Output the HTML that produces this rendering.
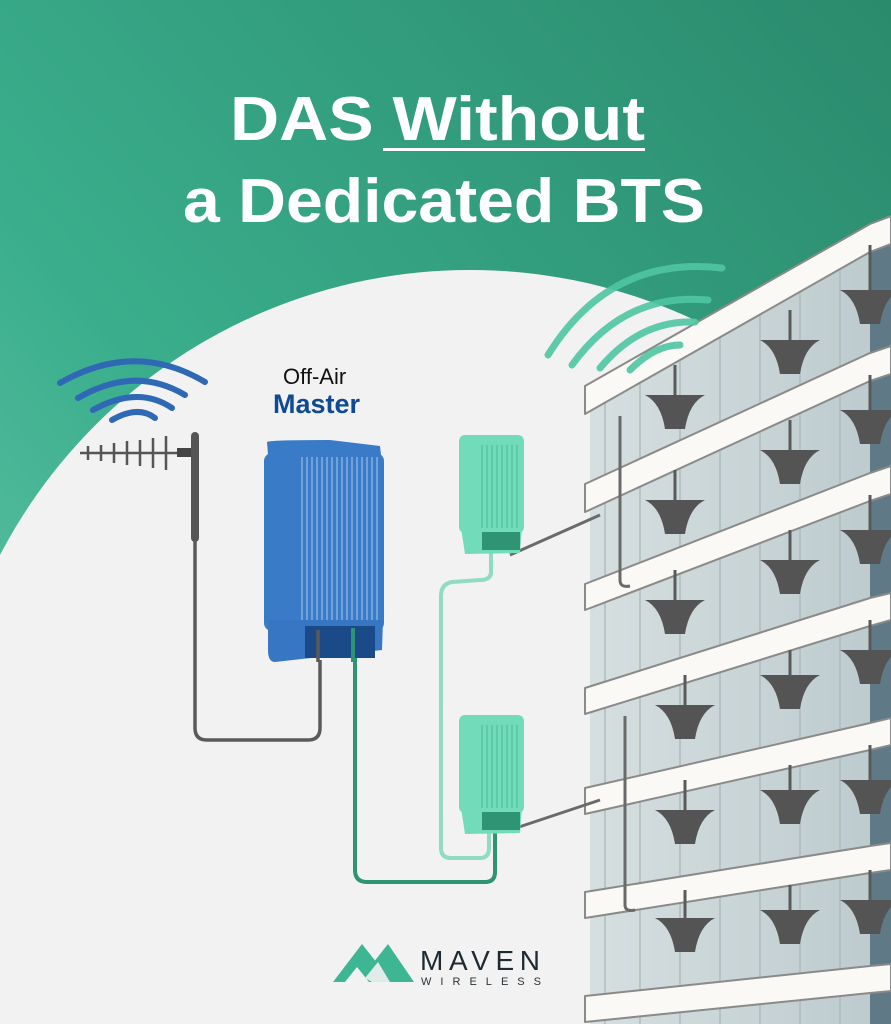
<!DOCTYPE html>
<html><head><meta charset="utf-8"><style>
html,body{margin:0;padding:0;background:#f2f2f2;width:891px;height:1024px;overflow:hidden}
svg{display:block}
</style></head><body>
<svg width="891" height="1024" viewBox="0 0 891 1024" xmlns="http://www.w3.org/2000/svg">
<defs>
<linearGradient id="bg" x1="1" y1="0" x2="0" y2="1">
<stop offset="0" stop-color="#2a8a6c"/><stop offset="0.6" stop-color="#3aae8c"/><stop offset="1" stop-color="#6cc9ad"/>
</linearGradient>
<linearGradient id="gl" x1="0" y1="0" x2="1" y2="0">
<stop offset="0" stop-color="#d6dfe0"/><stop offset="1" stop-color="#bccacd"/>
</linearGradient>
<path id="c" d="M-30,0 L30,0 Q14,8 10,34 L-10,34 Q-14,8 -30,0Z"/>
</defs>
<rect width="891" height="1024" fill="url(#bg)"/>
<circle cx="470" cy="800" r="530" fill="#f2f2f2"/>
<rect x="0" y="800" width="891" height="224" fill="#f2f2f2"/>

<!-- Title -->
<g font-family="Liberation Sans, sans-serif" fill="#fff" font-size="62" font-weight="bold">
<text x="230" y="140" textLength="415" lengthAdjust="spacingAndGlyphs">DAS Without</text>
<text x="183" y="222" textLength="522" lengthAdjust="spacingAndGlyphs">a Dedicated BTS</text>
</g>
<rect x="383" y="148" width="262" height="3" fill="#fff"/>

<!-- Building -->
<polygon points="590,400 870,240 891,232 891,1024 590,1024" fill="url(#gl)"/>
<polygon points="870,240 891,228 891,1024 870,1024" fill="#5f7a86"/>
<g stroke="#aebcbf" stroke-width="1.5">
<line x1="605" y1="390" x2="605" y2="1024"/><line x1="640" y1="370" x2="640" y2="1024"/><line x1="680" y1="350" x2="680" y2="1024"/>
<line x1="720" y1="325" x2="720" y2="1024"/><line x1="760" y1="305" x2="760" y2="1024"/><line x1="800" y1="285" x2="800" y2="1024"/><line x1="840" y1="260" x2="840" y2="1024"/>
</g>
<!-- slabs -->
<g fill="#faf9f5" stroke="#8a8a8a" stroke-width="2" stroke-linejoin="round">
<polygon points="585,386 870,224 891,216 891,244 870,252 585,414"/>
<polygon points="585,484 870,353 891,346 891,374 870,381 585,512"/>
<polygon points="585,584 870,473 891,466 891,494 870,501 585,610"/>
<polygon points="585,688 870,598 891,593 891,620 870,626 585,714"/>
<polygon points="585,788 870,723 891,718 891,745 870,750 585,814"/>
<polygon points="585,892 870,846 891,843 891,870 870,873 585,918"/>
<polygon points="585,996 870,966 891,964 891,991 870,993 585,1022"/>
</g>
<!-- cables along building -->
<g stroke="#6a6a6a" stroke-width="3" fill="none">
<path d="M620,416 L620,580 Q620,588 630,586"/>
<path d="M625,716 L625,905 Q625,912 635,910"/>
<line x1="510" y1="555" x2="600" y2="515"/>
<line x1="510" y1="830" x2="600" y2="800"/>
</g>
<!-- antennas -->
<g stroke="#5a5a5a" stroke-width="3">
<line x1="675" y1="365" x2="675" y2="395"/><line x1="675" y1="470" x2="675" y2="500"/><line x1="675" y1="570" x2="675" y2="600"/>
<line x1="685" y1="675" x2="685" y2="705"/><line x1="685" y1="780" x2="685" y2="810"/><line x1="685" y1="890" x2="685" y2="918"/>
<line x1="790" y1="310" x2="790" y2="340"/><line x1="790" y1="420" x2="790" y2="450"/><line x1="790" y1="530" x2="790" y2="560"/>
<line x1="790" y1="650" x2="790" y2="675"/><line x1="790" y1="765" x2="790" y2="790"/><line x1="790" y1="885" x2="790" y2="910"/>
<line x1="870" y1="245" x2="870" y2="290"/><line x1="870" y1="375" x2="870" y2="410"/><line x1="870" y1="495" x2="870" y2="530"/>
<line x1="870" y1="620" x2="870" y2="650"/><line x1="870" y1="745" x2="870" y2="780"/><line x1="870" y1="870" x2="870" y2="900"/>
</g>
<g fill="#545454">
<use href="#c" x="675" y="395"/><use href="#c" x="675" y="500"/><use href="#c" x="675" y="600"/>
<use href="#c" x="685" y="705"/><use href="#c" x="685" y="810"/><use href="#c" x="685" y="918"/>
<use href="#c" x="790" y="340"/><use href="#c" x="790" y="450"/><use href="#c" x="790" y="560"/>
<use href="#c" x="790" y="675"/><use href="#c" x="790" y="790"/><use href="#c" x="790" y="910"/>
<use href="#c" x="870" y="290"/><use href="#c" x="870" y="410"/><use href="#c" x="870" y="530"/>
<use href="#c" x="870" y="650"/><use href="#c" x="870" y="780"/><use href="#c" x="870" y="900"/>
</g>

<!-- green wifi -->
<g fill="none" stroke="#4fc6a2" stroke-width="7" stroke-linecap="round" opacity="0.9">
<path d="M548,355 Q610,255 722,268"/>
<path d="M572,365 Q625,292 708,300"/>
<path d="M600,368 Q640,320 695,322"/>
<path d="M630,370 Q655,345 680,345"/>
</g>
<!-- blue wifi -->
<g fill="none" stroke="#2f68b5" stroke-width="6" stroke-linecap="round">
<path d="M60,383 Q135,340 205,382"/>
<path d="M78,398 Q135,365 185,395"/>
<path d="M93,410 Q138,385 172,408"/>
<path d="M112,420 Q138,405 155,418"/>
</g>

<!-- yagi -->
<g stroke="#555" stroke-width="2.5">
<line x1="80" y1="453" x2="180" y2="453"/>
<line x1="88" y1="446" x2="88" y2="460"/><line x1="101" y1="445" x2="101" y2="461"/><line x1="114" y1="443" x2="114" y2="463"/>
<line x1="127" y1="441" x2="127" y2="465"/><line x1="140" y1="440" x2="140" y2="466"/><line x1="153" y1="438" x2="153" y2="468"/><line x1="166" y1="436" x2="166" y2="470"/>
</g>
<rect x="177" y="448" width="16" height="9" fill="#444"/>
<rect x="191" y="432" width="8" height="110" rx="4" fill="#555"/>
<path d="M195,540 L195,728 Q195,740 207,740 L308,740 Q320,740 320,728 L320,660" stroke="#5a5a5a" stroke-width="3.5" fill="none"/>

<!-- cables from master -->
<path d="M355,655 L355,870 Q355,882 367,882 L485,882 Q495,882 495,872 L495,832" stroke="#2f9474" stroke-width="4" fill="none"/>
<path d="M491,552 L491,572 Q491,580 480,580 L452,582 Q441,584 441,596 L441,848 Q441,858 451,858 L480,858 Q489,858 489,848 L489,832" stroke="#8fdcc3" stroke-width="4" fill="none"/>

<!-- master -->
<text x="283" y="384" font-family="Liberation Sans, sans-serif" font-size="22" fill="#111">Off-Air</text>
<text x="273" y="413" font-family="Liberation Sans, sans-serif" font-size="27" font-weight="bold" fill="#0f4a93">Master</text>
<path d="M267,442 Q268,440 330,440 L380,446 L381,455 L268,455Z" fill="#3a7bc8"/>
<rect x="264" y="453" width="120" height="178" rx="8" fill="#3a7bc8"/>
<path d="M268,620 L383,620 L382,650 L275,662 Q268,662 268,650Z" fill="#3776c2"/>
<rect x="305" y="626" width="70" height="32" fill="#1a4a88"/>
<g stroke="#a9c8ee" stroke-width="1">
<line x1="302" y1="457" x2="302" y2="620"/><line x1="307" y1="457" x2="307" y2="620"/><line x1="312" y1="457" x2="312" y2="620"/><line x1="317" y1="457" x2="317" y2="620"/><line x1="322" y1="457" x2="322" y2="620"/><line x1="327" y1="457" x2="327" y2="620"/><line x1="332" y1="457" x2="332" y2="620"/><line x1="337" y1="457" x2="337" y2="620"/><line x1="342" y1="457" x2="342" y2="620"/><line x1="347" y1="457" x2="347" y2="620"/><line x1="352" y1="457" x2="352" y2="620"/><line x1="357" y1="457" x2="357" y2="620"/><line x1="362" y1="457" x2="362" y2="620"/><line x1="367" y1="457" x2="367" y2="620"/><line x1="372" y1="457" x2="372" y2="620"/><line x1="377" y1="457" x2="377" y2="620"/>
</g>
<line x1="318" y1="630" x2="318" y2="662" stroke="#5a5a5a" stroke-width="3.5"/>
<line x1="353" y1="628" x2="353" y2="662" stroke="#2f9474" stroke-width="4"/>

<!-- remote units -->
<g id="ru">
<rect x="459" y="435" width="65" height="98" rx="6" fill="#72dcba"/>
<path d="M461,528 L522,528 L520,553 L465,554Z" fill="#72dcba"/>
<rect x="482" y="532" width="38" height="18" fill="#2f9474"/>
<g stroke="#4cb896" stroke-width="1">
<line x1="482" y1="445" x2="482" y2="528"/><line x1="487" y1="445" x2="487" y2="528"/><line x1="492" y1="445" x2="492" y2="528"/><line x1="497" y1="445" x2="497" y2="528"/><line x1="502" y1="445" x2="502" y2="528"/><line x1="507" y1="445" x2="507" y2="528"/><line x1="512" y1="445" x2="512" y2="528"/><line x1="517" y1="445" x2="517" y2="528"/>
</g>
</g>
<use href="#ru" x="0" y="280"/>

<!-- logo -->
<g fill="#3fb693">
<polygon points="333,982 362,944 392,982"/>
<polygon points="358,982 388,944 414,982"/>
</g>
<polygon points="345,982 357,967 369,982" fill="#f2f2f2"/>
<polygon points="365,978 378,962 390,982 372,982" fill="#f2f2f2" opacity="0.9"/>
<text x="420" y="970" font-family="Liberation Sans, sans-serif" font-size="28" fill="#1f2a30" textLength="120" lengthAdjust="spacing">MAVEN</text>
<text x="421" y="985" font-family="Liberation Sans, sans-serif" font-size="11" fill="#2a3338" textLength="120" lengthAdjust="spacing">WIRELESS</text>
</svg>
</body></html>
